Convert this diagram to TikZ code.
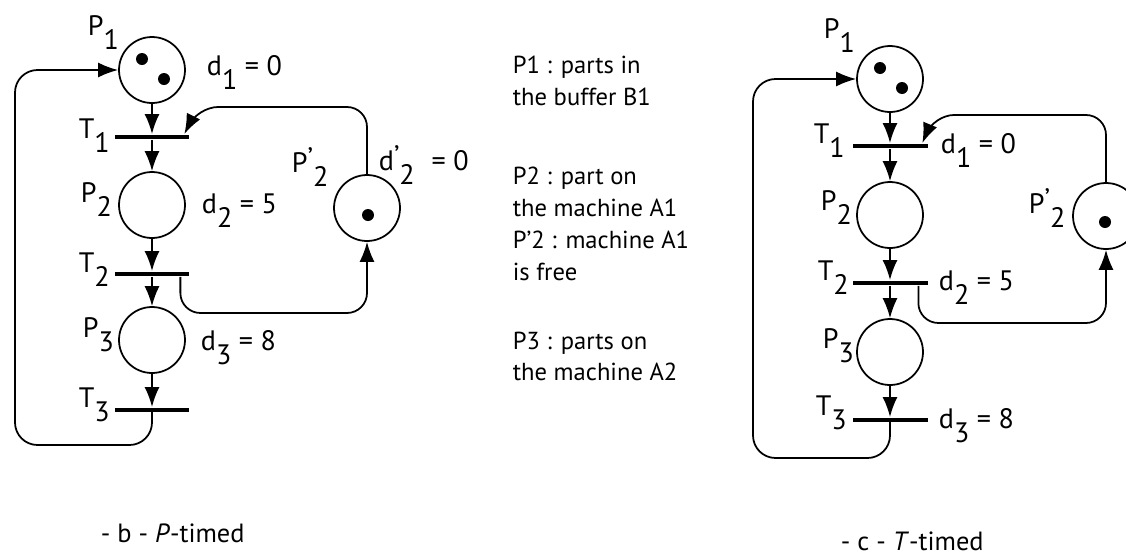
\documentclass[tikz,border=0pt]{standalone}
\usepackage{fontspec}
\setmainfont{PT Sans}
\usetikzlibrary{arrows.meta,positioning}
\newcommand{\lowsub}[1]{\raisebox{-1ex}{#1}}
\newcommand{\prm}{\raisebox{0.3ex}{'}}

\begin{document}
\begin{tikzpicture}[x=0.02cm,y=-0.02cm,>={Latex[length=4mm,width=3mm]},
                    line width=1pt,every text node part/.style={align=left}]
  \tikzstyle{place}=[circle,draw,minimum size=1.32cm,inner sep=0pt]
  \tikzstyle{trans}=[rectangle,fill=black,minimum width=1.5cm,minimum height=2.4pt,inner sep=0pt]
  \tikzstyle{token}=[circle,fill=black,minimum size=0.24cm,inner sep=0pt]
  \tikzstyle{lbl}=[anchor=base west,inner sep=0pt,font=\fontsize{16}{18}\selectfont]
  \tikzstyle{note}=[anchor=north west,inner sep=0pt,font=\fontsize{14}{18}\selectfont]
  \tikzstyle{capt}=[anchor=base west,inner sep=0pt,font=\fontsize{15}{16}\selectfont]

  \useasboundingbox (0,0) rectangle (1126,555);

  % -b- P-timed
  \node[place] (bP1) at (152,70)  {};
  \node[trans] (bT1) at (152,137) {};
  \node[place] (bP2) at (152,205) {};
  \node[trans] (bT2) at (152,274) {};
  \node[place] (bP3) at (152,340) {};
  \node[trans] (bT3) at (152,410) {};
  \node[place] (bQ2) at (367,208) {};
  \node[token] (bk1) at (142,59) {};
  \node[token] (bk2) at (164,79) {};
  \node[token] (bk3) at (368,215) {};

  \node[lbl] (bP1l) at (87,35)  {P\lowsub{1}};
  \node[lbl] (bT1l) at (78,138) {T\lowsub{1}};
  \node[lbl] (bP2l) at (80,202) {P\lowsub{2}};
  \node[lbl] (bT2l) at (78,272) {T\lowsub{2}};
  \node[lbl] (bP3l) at (82,337) {P\lowsub{3}};
  \node[lbl] (bT3l) at (78,407) {T\lowsub{3}};
  \node[lbl] (bQ2l) at (291,172) {P\prm\lowsub{2}};
  \node[lbl] (bd1) at (206,75)  {d\lowsub{1} = 0};
  \node[lbl] (bd2) at (201,213) {d\lowsub{2} = 5};
  \node[lbl] (bd3) at (200,350) {d\lowsub{3} = 8};
  \node[lbl] (bd4) at (378,170) {d\prm\lowsub{2}\hspace{0.6em}= 0};

  \draw[->] (bP1) -- (bT1);
  \draw[->] (bT1) -- (bP2);
  \draw[->] (bP2) -- (bT2);
  \draw[->] (bT2) -- (bP3);
  \draw[->] (bP3) -- (bT3);
  \draw[->,rounded corners=0.45cm] (bT3.center) |- (15,445) |- (bP1.west);
  \draw[->,rounded corners=0.4cm] (bQ2.north) |- (198,107) -- ([xshift=-0.12cm]bT1.north east);
  \draw[->,rounded corners=0.4cm] ([xshift=-0.2cm]bT2.south east) -- ++(0,36) -| (bQ2.south);

  % legend
  \node[note] (n1) at (512,55)  {P1 : parts in\\the buffer B1};
  \node[note] (n2) at (512,166) {P2 : part on\\the machine A1};
  \node[note] (n3) at (512,230) {P'2 : machine A1\\is free};
  \node[note] (n4) at (512,331) {P3 : parts on\\the machine A2};

  % -c- T-timed
  \node[place] (cP1) at (890,79)  {};
  \node[trans] (cT1) at (890,146) {};
  \node[place] (cP2) at (890,215) {};
  \node[trans] (cT2) at (890,283) {};
  \node[place] (cP3) at (890,352) {};
  \node[trans] (cT3) at (890,420) {};
  \node[place] (cQ2) at (1106,216) {};
  \node[token] (ck1) at (880,68) {};
  \node[token] (ck2) at (902,88) {};
  \node[token] (ck3) at (1105,222) {};

  \node[lbl] (cP1l) at (823,38)  {P\lowsub{1}};
  \node[lbl] (cT1l) at (813,143) {T\lowsub{1}};
  \node[lbl] (cP2l) at (820,210) {P\lowsub{2}};
  \node[lbl] (cT2l) at (817,280) {T\lowsub{2}};
  \node[lbl] (cP3l) at (822,348) {P\lowsub{3}};
  \node[lbl] (cT3l) at (815,415) {T\lowsub{3}};
  \node[lbl] (cQ2l) at (1028,213) {P\prm\lowsub{2}};
  \node[lbl] (cd1) at (940,153) {d\lowsub{1} = 0};
  \node[lbl] (cd2) at (938,290) {d\lowsub{2} = 5};
  \node[lbl] (cd3) at (938,428) {d\lowsub{3} = 8};

  \draw[->] (cP1) -- (cT1);
  \draw[->] (cT1) -- (cP2);
  \draw[->] (cP2) -- (cT2);
  \draw[->] (cT2) -- (cP3);
  \draw[->] (cP3) -- (cT3);
  \draw[->,rounded corners=0.45cm] (cT3.center) |- (753,458) |- (cP1.west);
  \draw[->,rounded corners=0.4cm] (cQ2.north) |- (934,115) -- ([xshift=-0.12cm]cT1.north east);
  \draw[->,rounded corners=0.4cm] ([xshift=-0.2cm]cT2.south east) -- ++(0,37) -| (cQ2.south);

  \node[capt] (bcap) at (100,542) {- b - \textit{P}-timed};
  \node[capt] (ccap) at (840,550) {- c - \textit{T}-timed};
\end{tikzpicture}
\end{document}
